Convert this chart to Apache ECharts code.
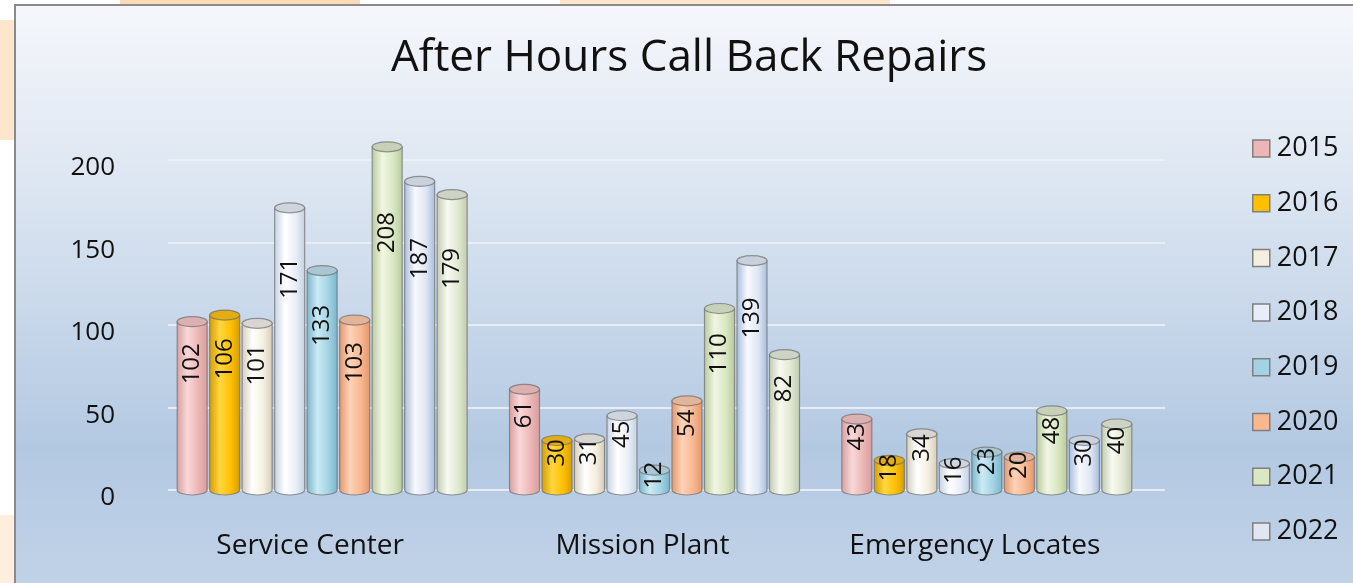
<!DOCTYPE html>
<html>
<head>
<meta charset="utf-8">
<title>After Hours Call Back Repairs</title>
<script src="https://cdn.jsdelivr.net/npm/echarts@6/dist/echarts.min.js"></script>
<style>
    html, body { margin: 0; padding: 0; background: #fff; }
    #chart { width: 1353px; height: 583px; }
</style>
</head>
<body>
<div id="chart"></div>
<script>
// categories on the x axis
const categories = ['Service Center', 'Mission Plant', 'Emergency Locates']
// one bar per year in every group (the last one has no legend entry in the picture)
const years = ['2015', '2016', '2017', '2018', '2019', '2020', '2021', '2022', '2023']
const legendYears = ['2015', '2016', '2017', '2018', '2019', '2020', '2021', '2022']
// values per group, in the order of years
const serviceCenter = [102, 106, 101, 171, 133, 103, 208, 187, 179]
const missionPlant = [61, 30, 31, 45, 12, 54, 110, 139, 82]
const emergencyLocates = [43, 18, 34, 16, 23, 20, 48, 30, 40]
// y axis ticks
const yTicks = { min: 0, max: 200, step: 50 }

// cylinder colours: [edge, highlight, swatch, top]
const palette = [
    ['#d79c9c', '#f9d8d8', '#ecb6b6', '#dcb0b0'],
    ['#d49b00', '#ffd640', '#ffc000', '#e3ad10'],
    ['#d3ccb8', '#ffffff', '#f4efe1', '#d8d6d0'],
    ['#c3d0e2', '#ffffff', '#e8eef7', '#cfd5dd'],
    ['#79b3c8', '#cbeaf4', '#a3d3e3', '#a9c7d3'],
    ['#e3966a', '#fdd3b8', '#f9b790', '#e4b49a'],
    ['#b7c99c', '#f0f6e2', '#d9e7c2', '#c6d1b7'],
    ['#a6bcdb', '#f7f9fd', '#dfe7f3', '#c9d1dc'],
    ['#bfcaae', '#f8faf1', '#e0e8d1', '#cdd3c5']
]

const groups = [serviceCenter, missionPlant, emergencyLocates]

const FONT = 'Open Sans'
const BAR_W = 30
const BAR_GAP = 2.5
const GROUP_W = years.length * BAR_W + (years.length - 1) * BAR_GAP
const RY = 5
// 3D 深度偏移：柱子相对类目中心左移
const DEPTH_SHIFT = -12

const chart = echarts.init(document.getElementById('chart'))

// 圆柱体
function cylinder(si) {
    return function (params, api) {
        const cat = api.value(0)
        const val = api.value(1)
        const base = api.coord([cat, 0])
        const top = api.coord([cat, val])
        const mid = api.coord([cat, val * 0.75])
        const x = base[0] + DEPTH_SHIFT - GROUP_W / 2 + si * (BAR_W + BAR_GAP)
        const cx = x + BAR_W / 2
        const c = palette[si]
        const body = new echarts.graphic.LinearGradient(0, 0, 1, 0, [
            { offset: 0, color: c[0] },
            { offset: 0.35, color: c[1] },
            { offset: 0.7, color: c[2] },
            { offset: 1, color: c[0] }
        ])
        const path = 'M' + x + ',' + top[1] +
            ' L' + x + ',' + base[1] +
            ' A' + (BAR_W / 2) + ',' + RY + ' 0 0 0 ' + (x + BAR_W) + ',' + base[1] +
            ' L' + (x + BAR_W) + ',' + top[1] + ' Z'
        return {
            type: 'group',
            children: [
                {
                    type: 'path',
                    shape: { pathData: path },
                    style: { fill: body, stroke: 'rgba(110,110,110,0.7)', lineWidth: 1.2 }
                },
                {
                    type: 'ellipse',
                    shape: { cx: cx, cy: top[1], rx: BAR_W / 2, ry: RY },
                    style: { fill: c[3], stroke: 'rgba(110,110,110,0.7)', lineWidth: 1.2 }
                },
                {
                    type: 'text',
                    x: cx,
                    y: mid[1],
                    rotation: Math.PI / 2,
                    style: {
                        text: String(val),
                        fontSize: 24,
                        fontFamily: FONT,
                        fill: '#111',
                        align: 'center',
                        verticalAlign: 'middle'
                    }
                }
            ]
        }
    }
}

const series = years.map((y, si) => ({
    name: y,
    type: 'custom',
    renderItem: cylinder(si),
    clip: false,
    itemStyle: { color: palette[si][2] },
    encode: { x: 0, y: 1 },
    data: categories.map((cat, ci) => [ci, groups[ci][si]])
}))

const option = {
    animation: false,
    textStyle: { fontFamily: FONT },
    graphic: [
        { type: 'rect', z: -100, silent: true, shape: { x: 0, y: 20, width: 15, height: 120 }, style: { fill: '#fde6cc' } },
        { type: 'rect', z: -100, silent: true, shape: { x: 0, y: 515, width: 15, height: 68 }, style: { fill: '#feeedd' } },
        { type: 'rect', z: -100, silent: true, shape: { x: 120, y: 0, width: 240, height: 6 }, style: { fill: '#fcdcb8' } },
        { type: 'rect', z: -100, silent: true, shape: { x: 560, y: 0, width: 330, height: 6 }, style: { fill: '#fde6cc' } },
        {
            type: 'rect',
            z: -99,
            silent: true,
            shape: { x: 15, y: 5, width: 1350, height: 590 },
            style: {
                fill: new echarts.graphic.LinearGradient(0, 0, 0, 1, [
                    { offset: 0, color: '#f5f7fb' },
                    { offset: 0.3, color: '#dde6f2' },
                    { offset: 0.75, color: '#b3c9e2' },
                    { offset: 1, color: '#c2d3e8' }
                ]),
                stroke: '#8a8a8a',
                lineWidth: 2
            }
        }
    ],
    title: {
        text: 'After Hours Call Back Repairs',
        left: 386,
        top: 31,
        textStyle: { fontSize: 44, fontWeight: 'normal', color: '#111', fontFamily: FONT }
    },
    legend: {
        orient: 'vertical',
        left: 1247,
        top: 130,
        data: legendYears,
        icon: 'rect',
        itemWidth: 17,
        itemHeight: 17,
        itemGap: 27.7,
        itemStyle: { borderColor: '#7f7f7f', borderWidth: 1.5 },
        textStyle: { fontSize: 27, color: '#111', fontFamily: FONT, padding: [0, 0, 0, 2] }
    },
    grid: { left: 168, right: 188, top: 160, bottom: 93 },
    xAxis: {
        type: 'category',
        data: categories,
        axisLine: { show: false },
        axisTick: { show: false },
        axisLabel: { fontSize: 28, color: '#111', margin: 42, padding: [0, 48, 0, 0], fontFamily: FONT }
    },
    yAxis: {
        type: 'value',
        min: yTicks.min,
        max: yTicks.max,
        interval: yTicks.step,
        axisLine: { show: false },
        axisTick: { show: false },
        axisLabel: {
            fontSize: 26,
            color: '#111',
            margin: 53,
            verticalAlign: 'top',
            lineHeight: 16,
            fontFamily: FONT
        },
        splitLine: { lineStyle: { color: 'rgba(235,240,246,0.9)', width: 2 } }
    },
    series: series
}

chart.setOption(option)
</script>
</body>
</html>
